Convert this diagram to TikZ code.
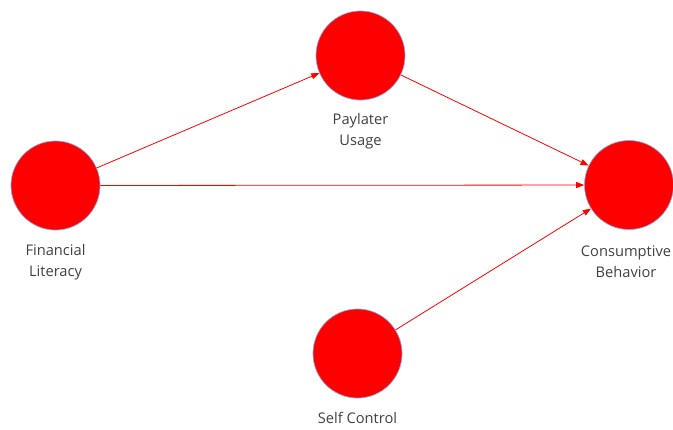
\documentclass[tikz,border=0pt]{standalone}
\usepackage{fontspec}
\setmainfont{Open Sans}
\usepackage{tikz}
\usetikzlibrary{arrows.meta}

\definecolor{varfill}{RGB}{255,0,0}
\definecolor{varedge}{RGB}{140,165,215}

\begin{document}
\begin{tikzpicture}[
  x=0.75pt, y=-0.75pt,
  font=\fontsize{11}{15.75}\selectfont,
  latent/.style={circle, draw=varedge, line width=0.5pt, fill=varfill,
    minimum size=66.75pt, inner sep=0pt},
  caption/.style={align=center, text=black!75, inner sep=0pt},
  link/.style={-{Triangle[length=6pt, width=4.5pt]}, red, line width=0.6pt},
]
  \useasboundingbox (0, 0) rectangle (673, 429);

  % Latent variables
  \node[latent] (fl) at (55.5, 185.5) {};
  \node[latent] (pu) at (360.5, 55.5) {};
  \node[latent] (cb) at (629, 185)    {};
  \node[latent] (sc) at (357.5, 353.5) {};

  % Captions below the circles
  \node[caption] (flcap) at (55.5, 262)  {Financial\\Literacy};
  \node[caption] (pucap) at (360.5, 131) {Paylater\\Usage};
  \node[caption] (cbcap) at (626, 262)   {Consumptive\\Behavior};
  \node[caption] (sccap) at (357.5, 418) {Self Control};

  % Paths
  \draw[link] (fl) -- (pu);
  \draw[link] (fl) -- (cb);
  \draw[link] (pu) -- (cb);
  \draw[link] (sc) -- (cb);
\end{tikzpicture}
\end{document}
